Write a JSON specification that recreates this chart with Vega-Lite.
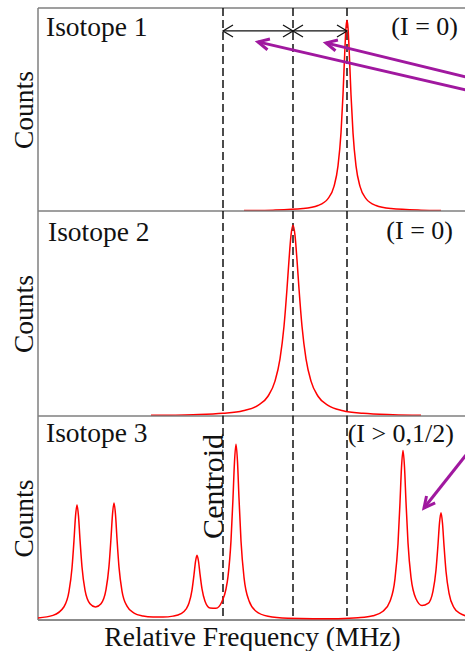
{
  "$schema": "https://vega.github.io/schema/vega-lite/v6.json",
  "padding": {"left": 10, "top": 7, "right": 0, "bottom": 0},
  "spacing": 0,
  "bounds": "flush",
  "config": {
    "view": {"stroke": null},
    "font": "Liberation Serif",
    "axis": {"labels": false, "ticks": false, "domain": false, "grid": false, "titleFont": "Liberation Serif", "titleFontSize": 27.5, "titleFontWeight": "normal", "titleColor": "#111111", "titlePadding": 0},
    "axisX": {"titlePadding": 3, "titleFontSize": 27.5},
    "text": {"font": "Liberation Serif", "color": "#111111", "fontSize": 26}
  },
  "datasets": {
    "one": [{"k": 1}],
    "iso1": [
      {"f": 21, "c": 0.0022}, {"f": 50, "c": 0.0043}, {"f": 80, "c": 0.012}, {"f": 95, "c": 0.027},
      {"f": 105, "c": 0.061}, {"f": 111, "c": 0.121}, {"f": 115, "c": 0.222}, {"f": 118, "c": 0.385},
      {"f": 120, "c": 0.573}, {"f": 122, "c": 0.81}, {"f": 123, "c": 0.904}, {"f": 124, "c": 0.94},
      {"f": 125, "c": 0.904}, {"f": 126, "c": 0.81}, {"f": 128, "c": 0.573}, {"f": 130, "c": 0.385},
      {"f": 133, "c": 0.222}, {"f": 137, "c": 0.121}, {"f": 143, "c": 0.061}, {"f": 153, "c": 0.027},
      {"f": 168, "c": 0.012}, {"f": 198, "c": 0.0043}, {"f": 218, "c": 0.0027}
    ],
    "iso2": [
      {"f": -72, "c": 0.0033}, {"f": -30, "c": 0.0067}, {"f": 0, "c": 0.0135}, {"f": 20, "c": 0.0261},
      {"f": 35, "c": 0.0518}, {"f": 45, "c": 0.0964}, {"f": 52, "c": 0.17}, {"f": 57, "c": 0.279},
      {"f": 61, "c": 0.438}, {"f": 64, "c": 0.621}, {"f": 66, "c": 0.761}, {"f": 68, "c": 0.881},
      {"f": 70, "c": 0.93}, {"f": 72, "c": 0.881}, {"f": 74, "c": 0.761}, {"f": 76, "c": 0.621},
      {"f": 79, "c": 0.438}, {"f": 83, "c": 0.279}, {"f": 88, "c": 0.17}, {"f": 95, "c": 0.0964},
      {"f": 105, "c": 0.0518}, {"f": 120, "c": 0.0261}, {"f": 140, "c": 0.0135}, {"f": 170, "c": 0.0067},
      {"f": 198, "c": 0.0041}
    ],
    "iso3": [
      {"f": -185, "c": 0.01}, {"f": -170, "c": 0.0225}, {"f": -159, "c": 0.065}, {"f": -154, "c": 0.14},
      {"f": -151, "c": 0.255}, {"f": -149, "c": 0.391}, {"f": -147.5, "c": 0.508}, {"f": -146, "c": 0.564},
      {"f": -144.5, "c": 0.509}, {"f": -143, "c": 0.394}, {"f": -141, "c": 0.26}, {"f": -138, "c": 0.147},
      {"f": -133, "c": 0.08}, {"f": -127.5, "c": 0.064}, {"f": -122, "c": 0.08}, {"f": -117, "c": 0.149},
      {"f": -114, "c": 0.264}, {"f": -112, "c": 0.401}, {"f": -110.5, "c": 0.518}, {"f": -109, "c": 0.574},
      {"f": -107.5, "c": 0.517}, {"f": -106, "c": 0.398}, {"f": -104, "c": 0.259}, {"f": -101, "c": 0.142},
      {"f": -96, "c": 0.068}, {"f": -89, "c": 0.034}, {"f": -80, "c": 0.02}, {"f": -70, "c": 0.015},
      {"f": -60, "c": 0.0146}, {"f": -50, "c": 0.019}, {"f": -42, "c": 0.031}, {"f": -37, "c": 0.053},
      {"f": -34, "c": 0.083}, {"f": -31, "c": 0.147}, {"f": -29, "c": 0.222}, {"f": -27.5, "c": 0.286},
      {"f": -26, "c": 0.317}, {"f": -24.5, "c": 0.288}, {"f": -23, "c": 0.225}, {"f": -21, "c": 0.152},
      {"f": -18, "c": 0.092}, {"f": -13, "c": 0.059}, {"f": -7, "c": 0.058}, {"f": -1, "c": 0.091},
      {"f": 3, "c": 0.152}, {"f": 5, "c": 0.213}, {"f": 8, "c": 0.389}, {"f": 10, "c": 0.598},
      {"f": 11.5, "c": 0.776}, {"f": 13, "c": 0.862}, {"f": 14.5, "c": 0.776}, {"f": 16, "c": 0.597},
      {"f": 18, "c": 0.387}, {"f": 21, "c": 0.209}, {"f": 26, "c": 0.094}, {"f": 33, "c": 0.043},
      {"f": 45, "c": 0.018}, {"f": 65, "c": 0.008}, {"f": 90, "c": 0.0056}, {"f": 115, "c": 0.0066},
      {"f": 135, "c": 0.011}, {"f": 150, "c": 0.021}, {"f": 160, "c": 0.043}, {"f": 167, "c": 0.092},
      {"f": 172, "c": 0.203}, {"f": 175, "c": 0.374}, {"f": 177, "c": 0.576}, {"f": 178.5, "c": 0.748},
      {"f": 180, "c": 0.831}, {"f": 181.5, "c": 0.75}, {"f": 183, "c": 0.578}, {"f": 185, "c": 0.378},
      {"f": 188, "c": 0.209}, {"f": 193, "c": 0.104}, {"f": 199, "c": 0.071}, {"f": 205, "c": 0.081},
      {"f": 210, "c": 0.142}, {"f": 213, "c": 0.245}, {"f": 215, "c": 0.37}, {"f": 216.5, "c": 0.476},
      {"f": 218, "c": 0.526}, {"f": 219.5, "c": 0.474}, {"f": 221, "c": 0.366}, {"f": 223, "c": 0.239},
      {"f": 226, "c": 0.132}, {"f": 231, "c": 0.061}, {"f": 237, "c": 0.032}, {"f": 243, "c": 0.02}
    ],
    "cent": [{"f": 0}, {"f": 70}, {"f": 124}],
    "shift": [{"f": 0, "f2": 70}, {"f": 70, "f2": 124}],
    "headL": [{"f": 0}, {"f": 70}],
    "headR": [{"f": 70}, {"f": 124}],
    "mag1": [{"f": 35, "c": 0.833, "f2": 243, "c2": 0.596}, {"f": 103, "c": 0.828, "f2": 243, "c2": 0.66}],
    "mag3": [{"f": 201, "c": 0.549, "f2": 243, "c2": 0.809}]
  },
  "vconcat": [
    {
      "width": 428, "height": 203,
      "layer": [
        {"data": {"name": "one"}, "mark": {"type": "rule", "color": "#7f7f7f", "strokeWidth": 1.5},
         "encoding": {"y": {"datum": 1, "type": "quantitative", "scale": {"domain": [0, 1]}, "title": "Counts"}}},
        {"data": {"name": "one"}, "mark": {"type": "rule", "color": "#7f7f7f", "strokeWidth": 1.5},
         "encoding": {"x": {"datum": -185, "type": "quantitative", "scale": {"domain": [-185, 243]}, "axis": null}}},
        {"data": {"name": "cent"}, "mark": {"type": "rule", "color": "#111111", "strokeWidth": 1.5, "strokeDash": [8, 4]},
         "encoding": {"x": {"field": "f", "type": "quantitative", "scale": {"domain": [-185, 243]}, "axis": null}}},
        {"data": {"name": "iso1"}, "mark": {"type": "line", "color": "#ff0000", "strokeWidth": 1.5, "interpolate": "monotone", "clip": true},
         "encoding": {"x": {"field": "f", "type": "quantitative", "scale": {"domain": [-185, 243]}, "axis": null},
                      "y": {"field": "c", "type": "quantitative", "scale": {"domain": [0, 1]}, "title": "Counts"}}},
        {"data": {"name": "shift"}, "mark": {"type": "rule", "color": "#111111", "strokeWidth": 1.3},
         "encoding": {"x": {"field": "f", "type": "quantitative", "scale": {"domain": [-185, 243]}, "axis": null},
                      "x2": {"field": "f2"},
                      "y": {"datum": 0.887, "type": "quantitative", "scale": {"domain": [0, 1]}, "title": "Counts"}}},
        {"data": {"name": "headL"}, "mark": {"type": "point", "shape": "M 2 -1.2 L 0 0 L 2 1.2", "size": 100, "filled": false, "color": "#111111", "strokeWidth": 1.3, "opacity": 1},
         "encoding": {"x": {"field": "f", "type": "quantitative", "scale": {"domain": [-185, 243]}, "axis": null},
                      "y": {"datum": 0.887, "type": "quantitative", "scale": {"domain": [0, 1]}, "title": "Counts"}}},
        {"data": {"name": "headR"}, "mark": {"type": "point", "shape": "M -2 -1.2 L 0 0 L -2 1.2", "size": 100, "filled": false, "color": "#111111", "strokeWidth": 1.3, "opacity": 1},
         "encoding": {"x": {"field": "f", "type": "quantitative", "scale": {"domain": [-185, 243]}, "axis": null},
                      "y": {"datum": 0.887, "type": "quantitative", "scale": {"domain": [0, 1]}, "title": "Counts"}}},
        {"data": {"name": "mag1"}, "mark": {"type": "rule", "color": "#a0189f", "strokeWidth": 3, "clip": true},
         "encoding": {"x": {"field": "f", "type": "quantitative", "scale": {"domain": [-185, 243]}, "axis": null},
                      "y": {"field": "c", "type": "quantitative", "scale": {"domain": [0, 1]}, "title": "Counts"},
                      "x2": {"field": "f2"}, "y2": {"field": "c2"}}},
        {"data": {"name": "mag1"}, "mark": {"type": "point", "shape": "M 2.2 -1.1 L 0 0 L 2.2 1.1", "size": 100, "filled": false, "color": "#a0189f", "strokeWidth": 3, "angle": 13, "opacity": 1},
         "encoding": {"x": {"field": "f", "type": "quantitative", "scale": {"domain": [-185, 243]}, "axis": null},
                      "y": {"field": "c", "type": "quantitative", "scale": {"domain": [0, 1]}, "title": "Counts"}}},
        {"data": {"name": "one"}, "mark": {"type": "text", "text": "Isotope 1", "align": "left", "baseline": "alphabetic", "fontSize": 27.5},
         "encoding": {"x": {"datum": -177, "type": "quantitative", "scale": {"domain": [-185, 243]}, "axis": null},
                      "y": {"datum": 0.862, "type": "quantitative", "scale": {"domain": [0, 1]}, "title": "Counts"}}},
        {"data": {"name": "one"}, "mark": {"type": "text", "text": "(I = 0)", "align": "right", "baseline": "alphabetic"},
         "encoding": {"x": {"datum": 235, "type": "quantitative", "scale": {"domain": [-185, 243]}, "axis": null},
                      "y": {"datum": 0.867, "type": "quantitative", "scale": {"domain": [0, 1]}, "title": "Counts"}}}
      ]
    },
    {
      "width": 428, "height": 205,
      "layer": [
        {"data": {"name": "one"}, "mark": {"type": "rule", "color": "#7f7f7f", "strokeWidth": 1.5},
         "encoding": {"y": {"datum": 1, "type": "quantitative", "scale": {"domain": [0, 1]}, "title": "Counts"}}},
        {"data": {"name": "one"}, "mark": {"type": "rule", "color": "#7f7f7f", "strokeWidth": 1.5},
         "encoding": {"x": {"datum": -185, "type": "quantitative", "scale": {"domain": [-185, 243]}, "axis": null}}},
        {"data": {"name": "cent"}, "mark": {"type": "rule", "color": "#111111", "strokeWidth": 1.5, "strokeDash": [8, 4]},
         "encoding": {"x": {"field": "f", "type": "quantitative", "scale": {"domain": [-185, 243]}, "axis": null}}},
        {"data": {"name": "iso2"}, "mark": {"type": "line", "color": "#ff0000", "strokeWidth": 1.5, "interpolate": "monotone", "clip": true},
         "encoding": {"x": {"field": "f", "type": "quantitative", "scale": {"domain": [-185, 243]}, "axis": null},
                      "y": {"field": "c", "type": "quantitative", "scale": {"domain": [0, 1]}, "title": "Counts"}}},
        {"data": {"name": "one"}, "mark": {"type": "text", "text": "Isotope 2", "align": "left", "baseline": "alphabetic", "fontSize": 27.5},
         "encoding": {"x": {"datum": -175, "type": "quantitative", "scale": {"domain": [-185, 243]}, "axis": null},
                      "y": {"datum": 0.854, "type": "quantitative", "scale": {"domain": [0, 1]}, "title": "Counts"}}},
        {"data": {"name": "one"}, "mark": {"type": "text", "text": "(I = 0)", "align": "right", "baseline": "alphabetic"},
         "encoding": {"x": {"datum": 230, "type": "quantitative", "scale": {"domain": [-185, 243]}, "axis": null},
                      "y": {"datum": 0.863, "type": "quantitative", "scale": {"domain": [0, 1]}, "title": "Counts"}}}
      ]
    },
    {
      "width": 428, "height": 204,
      "layer": [
        {"data": {"name": "one"}, "mark": {"type": "rule", "color": "#7f7f7f", "strokeWidth": 1.5},
         "encoding": {"y": {"datum": 1, "type": "quantitative", "scale": {"domain": [0, 1]}, "title": "Counts"}}},
        {"data": {"name": "one"}, "mark": {"type": "rule", "color": "#666666", "strokeWidth": 1.5},
         "encoding": {"y": {"datum": 0, "type": "quantitative", "scale": {"domain": [0, 1]}, "title": "Counts"}}},
        {"data": {"name": "one"}, "mark": {"type": "rule", "color": "#7f7f7f", "strokeWidth": 1.5},
         "encoding": {"x": {"datum": -185, "type": "quantitative", "scale": {"domain": [-185, 243]}, "title": "Relative Frequency (MHz)"}}},
        {"data": {"name": "cent"}, "mark": {"type": "rule", "color": "#111111", "strokeWidth": 1.5, "strokeDash": [8, 4]},
         "encoding": {"x": {"field": "f", "type": "quantitative", "scale": {"domain": [-185, 243]}, "title": "Relative Frequency (MHz)"}}},
        {"data": {"name": "iso3"}, "mark": {"type": "line", "color": "#ff0000", "strokeWidth": 1.5, "interpolate": "monotone", "clip": true},
         "encoding": {"x": {"field": "f", "type": "quantitative", "scale": {"domain": [-185, 243]}, "title": "Relative Frequency (MHz)"},
                      "y": {"field": "c", "type": "quantitative", "scale": {"domain": [0, 1]}, "title": "Counts"}}},
        {"data": {"name": "mag3"}, "mark": {"type": "rule", "color": "#a0189f", "strokeWidth": 3, "clip": true},
         "encoding": {"x": {"field": "f", "type": "quantitative", "scale": {"domain": [-185, 243]}, "title": "Relative Frequency (MHz)"},
                      "y": {"field": "c", "type": "quantitative", "scale": {"domain": [0, 1]}, "title": "Counts"},
                      "x2": {"field": "f2"}, "y2": {"field": "c2"}}},
        {"data": {"name": "mag3"}, "mark": {"type": "point", "shape": "M 2.2 -1.1 L 0 0 L 2.2 1.1", "size": 100, "filled": false, "color": "#a0189f", "strokeWidth": 3, "angle": -51.6, "opacity": 1},
         "encoding": {"x": {"field": "f", "type": "quantitative", "scale": {"domain": [-185, 243]}, "title": "Relative Frequency (MHz)"},
                      "y": {"field": "c", "type": "quantitative", "scale": {"domain": [0, 1]}, "title": "Counts"}}},
        {"data": {"name": "one"}, "mark": {"type": "text", "text": "Isotope 3", "align": "left", "baseline": "alphabetic", "fontSize": 27.5},
         "encoding": {"x": {"datum": -177, "type": "quantitative", "scale": {"domain": [-185, 243]}, "title": "Relative Frequency (MHz)"},
                      "y": {"datum": 0.873, "type": "quantitative", "scale": {"domain": [0, 1]}, "title": "Counts"}}},
        {"data": {"name": "one"}, "mark": {"type": "text", "text": "(I > 0,1/2)", "align": "right", "baseline": "alphabetic"},
         "encoding": {"x": {"datum": 231, "type": "quantitative", "scale": {"domain": [-185, 243]}, "title": "Relative Frequency (MHz)"},
                      "y": {"datum": 0.873, "type": "quantitative", "scale": {"domain": [0, 1]}, "title": "Counts"}}},
        {"data": {"name": "one"}, "mark": {"type": "text", "text": "Centroid", "align": "center", "baseline": "alphabetic", "angle": 270, "fontSize": 30},
         "encoding": {"x": {"datum": 0, "type": "quantitative", "scale": {"domain": [-185, 243]}, "title": "Relative Frequency (MHz)"},
                      "y": {"datum": 0.655, "type": "quantitative", "scale": {"domain": [0, 1]}, "title": "Counts"}}}
      ]
    }
  ]
}
